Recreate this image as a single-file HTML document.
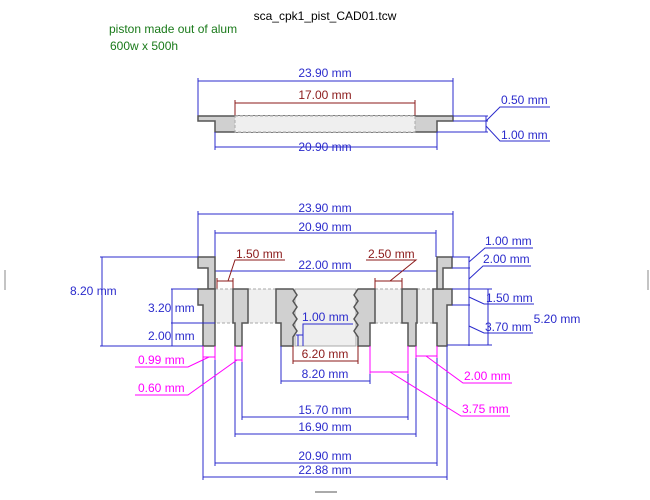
<!DOCTYPE html>
<html><head><meta charset="utf-8"><style>
html,body{margin:0;padding:0;background:#fff;}
svg{display:block;font-family:"Liberation Sans","DejaVu Sans",sans-serif;}
.b{stroke:#2b2bcc;stroke-width:1;fill:none}
.r{stroke:#8b1a1a;stroke-width:1;fill:none}
.m{stroke:#ff00ff;stroke-width:1;fill:none}
.s{fill:#d0d0d0;stroke:#555;stroke-width:1.5}
.l{fill:#efefef;stroke:#aaa;stroke-width:1;stroke-dasharray:3,2}
.tb{fill:#2b2bcc;font-size:12px}
.tr{fill:#8b1a1a;font-size:12px}
.tm{fill:#ff00ff;font-size:12px}
</style></head><body>
<svg width="650" height="500" viewBox="0 0 650 500" xmlns="http://www.w3.org/2000/svg">
<text x="325" y="20" font-size="12" text-anchor="middle" fill="#000">sca_cpk1_pist_CAD01.tcw</text>
<text x="109" y="33" font-size="12" fill="#1a7a1a">piston made out of alum</text>
<text x="110" y="50" font-size="12" fill="#1a7a1a">600w x 500h</text>

<!-- TOP VIEW -->
<line class="b" x1="198" y1="81" x2="453" y2="81"/>
<line class="b" x1="198" y1="78" x2="198" y2="116"/><line class="b" x1="453" y1="78" x2="453" y2="116"/>
<text class="tb" x="325" y="77" text-anchor="middle">23.90 mm</text>
<line class="r" x1="235" y1="103" x2="415" y2="103"/>
<line class="r" x1="235" y1="100" x2="235" y2="116"/><line class="r" x1="415" y1="100" x2="415" y2="116"/>
<text class="tr" x="325" y="99" text-anchor="middle">17.00 mm</text>
<polygon class="s" points="198,116 453,116 453,121 437,121 437,132 215,132 215,121 198,121"/>
<rect class="l" x="235" y="116" width="180" height="16"/>
<line class="b" x1="215" y1="132" x2="215" y2="150"/><line class="b" x1="437" y1="132" x2="437" y2="150"/>
<line class="b" x1="215" y1="147" x2="437" y2="147"/>
<text class="tb" x="325" y="151" text-anchor="middle">20.90 mm</text>
<line class="b" x1="453" y1="116" x2="488" y2="116"/><line class="b" x1="453" y1="121" x2="488" y2="121"/><line class="b" x1="437" y1="132" x2="488" y2="132"/>
<line class="b" x1="486" y1="116" x2="486" y2="132"/>
<polyline class="b" points="486,121 500,107 550,107"/>
<polyline class="b" points="486,126 500,141 550,141"/>
<text class="tb" x="501" y="104">0.50 mm</text>
<text class="tb" x="501" y="139">1.00 mm</text>

<!-- SIDE TICKS -->
<line x1="5" y1="270" x2="5" y2="290" stroke="#888"/>
<line x1="648" y1="270" x2="648" y2="290" stroke="#888"/>
<line x1="315" y1="492" x2="337" y2="492" stroke="#555"/>

<!-- MAIN VIEW dims top -->
<line class="b" x1="198" y1="214" x2="453" y2="214"/>
<line class="b" x1="198" y1="211" x2="198" y2="257"/><line class="b" x1="453" y1="211" x2="453" y2="257"/>
<text class="tb" x="325" y="212" text-anchor="middle">23.90 mm</text>
<line class="b" x1="215" y1="233" x2="436" y2="233"/>
<line class="b" x1="215" y1="230" x2="215" y2="257"/><line class="b" x1="436" y1="230" x2="436" y2="257"/>
<text class="tb" x="325" y="231" text-anchor="middle">20.90 mm</text>
<line class="b" x1="210" y1="271" x2="440" y2="271"/>
<text class="tb" x="325" y="269" text-anchor="middle">22.00 mm</text>

<!-- red small dims -->
<line class="r" x1="217" y1="281" x2="233" y2="281"/><line class="r" x1="217" y1="278" x2="217" y2="289"/><line class="r" x1="233" y1="278" x2="233" y2="289"/>
<polyline class="r" points="228,281 235,260 285,260"/>
<text class="tr" x="236" y="258">1.50 mm</text>
<line class="r" x1="375" y1="281" x2="402" y2="281"/><line class="r" x1="375" y1="278" x2="375" y2="289"/><line class="r" x1="402" y1="278" x2="402" y2="289"/>
<polyline class="r" points="390,281 416,260 366,260"/>
<text class="tr" x="368" y="258">2.50 mm</text>

<!-- BODY -->
<rect class="l" x="215" y="289" width="18" height="34"/>
<rect class="l" x="248" y="289" width="28" height="34"/>
<rect class="l" x="375" y="289" width="27" height="34"/>
<rect class="l" x="417" y="289" width="16" height="34"/>
<rect x="295" y="289" width="61" height="57" fill="#efefef" stroke="#aaa"/>
<polygon class="s" points="198,257 215,257 215,289 208,289 208,268 198,268"/>
<polygon class="s" points="198,289 215,289 215,346 203,346 203,305 198,305"/>
<polygon class="s" points="233,289 248,289 248,323 242,323 242,346 235,346 235,323 233,323"/>
<polygon class="s" points="276,289 293,289 297,295 293,301 297,307 293,313 297,319 293,325 297,331 293,337 293,346 281,346 281,323 276,323"/>
<polygon class="s" points="375,289 358,289 354,295 358,301 354,307 358,313 354,319 358,325 354,331 358,337 358,346 370,346 370,323 375,323"/>
<polygon class="s" points="402,289 417,289 417,323 416,323 416,346 408,346 408,323 402,323"/>
<polygon class="s" points="433,289 452,289 452,305 447,305 447,346 437,346 437,323 433,323"/>
<polygon class="s" points="437,257 452,257 452,268 443,268 443,289 437,289"/>

<!-- 1.00 / 6.20 center -->
<polyline class="b" points="353,324 303,324 303,346"/>
<line class="b" x1="298" y1="335" x2="298" y2="346"/>
<line class="b" x1="296" y1="335" x2="303" y2="335"/>
<text class="tb" x="302" y="321">1.00 mm</text>
<line class="r" x1="293" y1="361" x2="358" y2="361"/><line class="r" x1="293" y1="346" x2="293" y2="364"/><line class="r" x1="358" y1="346" x2="358" y2="364"/>
<text class="tr" x="325" y="358" text-anchor="middle">6.20 mm</text>

<!-- left dims -->
<line class="b" x1="100" y1="257" x2="198" y2="257"/>
<line class="b" x1="100" y1="346" x2="203" y2="346"/>
<line class="b" x1="102" y1="257" x2="102" y2="346"/>
<text class="tb" x="70" y="295">8.20 mm</text>
<line class="b" x1="171" y1="289" x2="198" y2="289"/>
<line class="b" x1="171" y1="323" x2="215" y2="323"/>
<line class="b" x1="172" y1="289" x2="172" y2="346"/>
<text class="tb" x="148" y="312">3.20 mm</text>
<text class="tb" x="148" y="340">2.00 mm</text>

<!-- right dims -->
<line class="b" x1="452" y1="257" x2="470" y2="257"/>
<line class="b" x1="452" y1="268" x2="470" y2="268"/>
<line class="b" x1="452" y1="289" x2="492" y2="289"/>
<line class="b" x1="452" y1="305" x2="470" y2="305"/>
<line class="b" x1="447" y1="345" x2="492" y2="345"/>
<line class="b" x1="469" y1="257" x2="469" y2="346"/>
<line class="b" x1="488" y1="289" x2="488" y2="345"/>
<text class="tb" x="557" y="323" text-anchor="middle">5.20 mm</text>
<polyline class="b" points="469,262 485,248 533,248"/>
<text class="tb" x="485" y="245">1.00 mm</text>
<polyline class="b" points="469,279 483,266 531,266"/>
<text class="tb" x="483" y="263">2.00 mm</text>
<polyline class="b" points="469,297 484,304 534,304"/>
<text class="tb" x="486" y="302">1.50 mm</text>
<polyline class="b" points="469,326 484,333 533,333"/>
<text class="tb" x="485" y="331">3.70 mm</text>

<!-- bottom extension lines -->
<line class="m" x1="203" y1="346" x2="203" y2="360"/><line class="m" x1="215" y1="346" x2="215" y2="360"/>
<line class="m" x1="235" y1="346" x2="235" y2="362"/><line class="m" x1="242" y1="346" x2="242" y2="362"/>
<line class="m" x1="370" y1="346" x2="370" y2="374"/><line class="m" x1="408" y1="346" x2="408" y2="374"/>
<line class="m" x1="416" y1="346" x2="416" y2="358"/><line class="m" x1="437" y1="346" x2="437" y2="358"/>
<line class="b" x1="203" y1="360" x2="203" y2="480"/><line class="b" x1="447" y1="346" x2="447" y2="480"/>
<line class="b" x1="215" y1="360" x2="215" y2="466"/><line class="b" x1="437" y1="358" x2="437" y2="466"/>
<line class="b" x1="235" y1="362" x2="235" y2="437"/><line class="b" x1="416" y1="358" x2="416" y2="437"/>
<line class="b" x1="242" y1="362" x2="242" y2="420"/><line class="b" x1="408" y1="374" x2="408" y2="420"/>
<line class="b" x1="281" y1="346" x2="281" y2="384"/><line class="b" x1="370" y1="374" x2="370" y2="384"/>

<line class="b" x1="281" y1="381" x2="370" y2="381"/>
<text class="tb" x="325" y="378" text-anchor="middle">8.20 mm</text>
<line class="b" x1="242" y1="417" x2="408" y2="417"/>
<text class="tb" x="325" y="414" text-anchor="middle">15.70 mm</text>
<line class="b" x1="235" y1="434" x2="416" y2="434"/>
<text class="tb" x="325" y="431" text-anchor="middle">16.90 mm</text>
<line class="b" x1="215" y1="463" x2="437" y2="463"/>
<text class="tb" x="325" y="460" text-anchor="middle">20.90 mm</text>
<line class="b" x1="203" y1="477" x2="447" y2="477"/>
<text class="tb" x="325" y="474" text-anchor="middle">22.88 mm</text>

<!-- magenta dims -->
<line class="m" x1="203" y1="357" x2="215" y2="357"/>
<polyline class="m" points="209,357 188,367 135,367"/>
<text class="tm" x="138" y="364">0.99 mm</text>
<line class="m" x1="235" y1="360" x2="242" y2="360"/>
<polyline class="m" points="237,360 188,395 135,395"/>
<text class="tm" x="138" y="392">0.60 mm</text>
<line class="m" x1="416" y1="356" x2="437" y2="356"/>
<polyline class="m" points="426,356 463,383 512,383"/>
<text class="tm" x="464" y="380">2.00 mm</text>
<line class="m" x1="370" y1="372" x2="408" y2="372"/>
<polyline class="m" points="390,372 461,416 510,416"/>
<text class="tm" x="462" y="413">3.75 mm</text>
</svg>
</body></html>
